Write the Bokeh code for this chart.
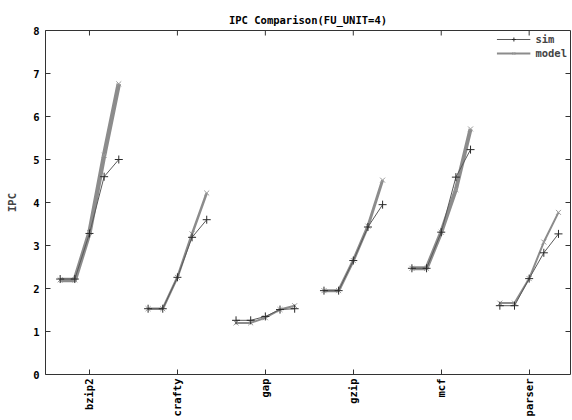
import math
from bokeh.plotting import figure
from bokeh.models import FixedTicker, Range1d, Legend, LegendItem
from bokeh.embed import file_html
from bokeh.resources import INLINE

# ---- data ----
benchmarks = ["bzip2", "crafty", "gap", "gzip", "mcf", "parser"]
steps = [-2, -1, 0, 1, 2]          # five configurations per benchmark, in sixths of a slot
sim = {
    "bzip2":  [2.22, 2.22, 3.28, 4.60, 5.00],
    "crafty": [1.53, 1.53, 2.26, 3.19, 3.60],
    "gap":    [1.26, 1.26, 1.35, 1.51, 1.53],
    "gzip":   [1.95, 1.95, 2.65, 3.43, 3.95],
    "mcf":    [2.47, 2.47, 3.31, 4.59, 5.23],
    "parser": [1.60, 1.60, 2.23, 2.83, 3.27],
}
model = {
    "bzip2":  [2.20, 2.20, 3.30, 5.10, 6.76],
    "crafty": [1.53, 1.53, 2.26, 3.27, 4.22],
    "gap":    [1.20, 1.20, 1.32, 1.51, 1.60],
    "gzip":   [1.95, 1.95, 2.65, 3.45, 4.52],
    "mcf":    [2.47, 2.47, 3.31, 4.30, 5.71],
    "parser": [1.66, 1.66, 2.23, 3.08, 3.77],
}
y_ticks = [0, 1, 2, 3, 4, 5, 6, 7, 8]

# ---- style ----
FONT = "DejaVu Sans Mono"
FS = "10.5px"
SIM_COLOR = "#5a5a5a"
SIM_MARK = "#2a2a2a"
MODEL_COLOR = "#8c8c8c"
MODEL_MARK = "#9a9a9a"
FRAME = "#333333"
model_width = {"bzip2": 4.5, "crafty": 2.5, "gap": 2, "gzip": 3, "mcf": 4, "parser": 2}

W, H = 572, 420
ML, MR, MT, MB = 45, 2, 30, 46
X0, X1 = -0.5, 5.47
Y0, Y1 = 0, 8

p = figure(width=W, height=H, output_backend="svg", toolbar_location=None,
           x_range=Range1d(X0, X1), y_range=Range1d(Y0, Y1),
           min_border_left=ML, min_border_right=MR, min_border_top=MT,
           min_border_bottom=MB)
p.background_fill_color = "white"
p.border_fill_color = "white"
p.outline_line_color = FRAME
p.xgrid.visible = False
p.ygrid.visible = False

p.title.text = "IPC Comparison(FU_UNIT=4)"
p.title.align = "center"
p.title.text_font = FONT
p.title.text_font_style = "bold"
p.title.text_font_size = FS
p.title.text_color = "black"

legend_refs = {}
for i, b in enumerate(benchmarks):
    xs = [i + s / 6 for s in steps]
    ml = p.line(xs, model[b], line_color=MODEL_COLOR, line_width=model_width[b])
    mp = p.scatter(xs, model[b], marker="x", size=7, line_color=MODEL_MARK, line_width=1)
    sl = p.line(xs, sim[b], line_color=SIM_COLOR, line_width=1)
    sp = p.scatter(xs, sim[b], marker="cross", size=8, line_color=SIM_MARK, line_width=1)
    if b == "gap":
        legend_refs = {"sim": [sl, sp], "model": [ml, mp]}

# mirrored inward ticks on the top and right edges (gnuplot style)
fw = W - ML - MR
fh = H - MT - MB
tx = (X1 - X0) / fw * 5      # 5 px in data units
ty = (Y1 - Y0) / fh * 5
inner_y = y_ticks[1:-1]
p.segment(x0=[X1] * len(inner_y), y0=inner_y, x1=[X1 - tx] * len(inner_y), y1=inner_y,
          line_color=FRAME, line_width=1)
cats = list(range(len(benchmarks)))
p.segment(x0=cats, y0=[Y1] * len(cats), x1=cats, y1=[Y1 - ty] * len(cats),
          line_color=FRAME, line_width=1)

def style_axis(ax):
    ax.axis_line_color = None
    ax.major_tick_in = 5
    ax.major_tick_out = 0
    ax.minor_tick_line_color = None
    ax.major_tick_line_color = FRAME
    ax.major_label_text_font = FONT
    ax.major_label_text_font_style = "bold"
    ax.major_label_text_font_size = FS
    ax.major_label_text_color = "black"

xa = p.xaxis[0]
xa.ticker = FixedTicker(ticks=cats)
xa.major_label_overrides = {i: b for i, b in enumerate(benchmarks)}
xa.major_label_orientation = math.pi / 2
xa.major_label_standoff = 4
style_axis(xa)

ya = p.yaxis[0]
ya.ticker = FixedTicker(ticks=y_ticks)
ya.axis_label = "IPC"
ya.axis_label_text_font = FONT
ya.axis_label_text_font_style = "bold"
ya.axis_label_text_font_size = FS
ya.axis_label_standoff = 12
ya.major_label_standoff = 6
style_axis(ya)

legend = Legend(items=[
    LegendItem(label="sim", renderers=legend_refs["sim"]),
    LegendItem(label="model", renderers=legend_refs["model"]),
], location="top_right")
legend.border_line_color = None
legend.background_fill_alpha = 0
legend.label_text_font = FONT
legend.label_text_font_style = "bold"
legend.label_text_font_size = FS
legend.glyph_width = 34
legend.glyph_height = 10
legend.spacing = 2
legend.padding = 3
legend.margin = 3
legend.label_height = 10
p.add_layout(legend)

open("out.html", "w").write(file_html(p, INLINE))
